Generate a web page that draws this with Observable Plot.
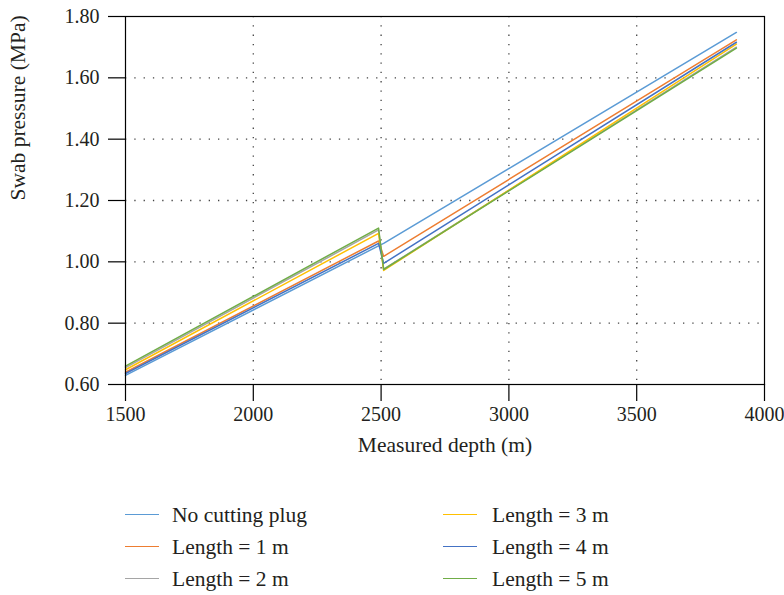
<!DOCTYPE html>
<html>
<head>
<meta charset="utf-8">
<script src="https://cdn.jsdelivr.net/npm/d3@7"></script>
<script src="https://cdn.jsdelivr.net/npm/@observablehq/plot@0.6"></script>
<style>
  html, body { margin: 0; padding: 0; background: #fff; }
  #chart { width: 784px; }
  #legend { position: relative; width: 784px; height: 125px; font-family: "Liberation Serif", serif; font-size: 21.5px; color: #231f20; }
  .item { position: absolute; height: 30px; line-height: 30px; white-space: nowrap; }
  .swatch { position: absolute; top: 14px; height: 0; border-top: 1.6px solid; }
  .lab { position: absolute; top: 0; }
</style>
</head>
<body>
<div id="chart"></div>
<div id="legend"></div>
<script>
// Measured depth (m) at the break points of each curve
const depths = [1500, 2490, 2510, 3890];

// Swab pressure (MPa) for each case
const noPlug = [0.630, 1.052, 1.060, 1.748];
const len1   = [0.640, 1.068, 1.018, 1.724];
const len2   = [0.655, 1.104, 0.976, 1.700];
const len3   = [0.648, 1.093, 0.972, 1.710];
const len4   = [0.636, 1.060, 0.995, 1.716];
const len5   = [0.660, 1.110, 0.975, 1.697];

const seriesNames = ["No cutting plug", "Length = 1 m", "Length = 2 m", "Length = 3 m", "Length = 4 m", "Length = 5 m"];
const seriesColors = ["#5b9bd5", "#ed7d31", "#a5a5a5", "#ffc000", "#4472c4", "#70ad47"];
const seriesValues = [noPlug, len1, len2, len3, len4, len5];

const xTicks = [1500, 2000, 2500, 3000, 3500, 4000];
const yTicks = [0.6, 0.8, 1.0, 1.2, 1.4, 1.6, 1.8];
const xLabel = "Measured depth (m)";
const yLabel = "Swab pressure (MPa)";

const rows = seriesNames.flatMap((name, i) =>
  depths.map((d, j) => ({series: name, depth: d, value: seriesValues[i][j]}))
);

const chart = Plot.plot({
  width: 784,
  height: 470,
  marginLeft: 125,
  marginRight: 20,
  marginTop: 16,
  marginBottom: 86,
  style: {fontFamily: "Liberation Serif, serif", fontSize: "20px", color: "#231f20", background: "#fff"},
  x: {domain: [1500, 4000]},
  y: {domain: [0.6, 1.8]},
  color: {domain: seriesNames, range: seriesColors},
  marks: [
    Plot.gridY(yTicks.slice(1, -1), {stroke: "#444", strokeOpacity: 1, strokeWidth: 1.3, strokeDasharray: "1.3,8"}),
    Plot.gridX(xTicks.slice(1, -1), {stroke: "#444", strokeOpacity: 1, strokeWidth: 1.3, strokeDasharray: "1.3,8"}),
    Plot.line(rows, {x: "depth", y: "value", z: "series", stroke: "series", strokeWidth: 1.5}),
    Plot.frame({stroke: "#000", strokeWidth: 1.2}),
    Plot.axisX(xTicks, {
      tickSize: 17, tickPadding: 5, stroke: "#000", strokeWidth: 1.2,
      tickFormat: d => String(d), label: null
    }),
    Plot.axisY(yTicks, {
      tickSize: 17, tickPadding: 9, stroke: "#000", strokeWidth: 1.2,
      tickFormat: d3.format(".2f"), label: null
    }),
    // axis titles
    Plot.text([xLabel], {text: d => d, frameAnchor: "bottom", lineAnchor: "middle", dy: 61, fontSize: 21.5, fill: "#231f20"}),
    Plot.text([yLabel], {text: d => d, frameAnchor: "left", lineAnchor: "middle", dx: -107, rotate: -90, fontSize: 21.5, fill: "#231f20"})
  ]
});
document.getElementById("chart").appendChild(chart);

// Two-column legend under the chart
const legend = document.getElementById("legend");
const colX = [{sw: 125, tx: 172}, {sw: 443, tx: 492}];
const rowY = [30, 62, 94];
seriesNames.forEach((name, i) => {
  const col = Math.floor(i / 3), row = i % 3;
  const item = document.createElement("div");
  item.className = "item";
  item.style.left = "0px";
  item.style.top = rowY[row] + "px";
  const sw = document.createElement("div");
  sw.className = "swatch";
  sw.style.left = colX[col].sw + "px";
  sw.style.width = "34px";
  sw.style.borderTopColor = seriesColors[i];
  const lab = document.createElement("div");
  lab.className = "lab";
  lab.style.left = colX[col].tx + "px";
  lab.textContent = name;
  item.appendChild(sw);
  item.appendChild(lab);
  legend.appendChild(item);
});
</script>
</body>
</html>
